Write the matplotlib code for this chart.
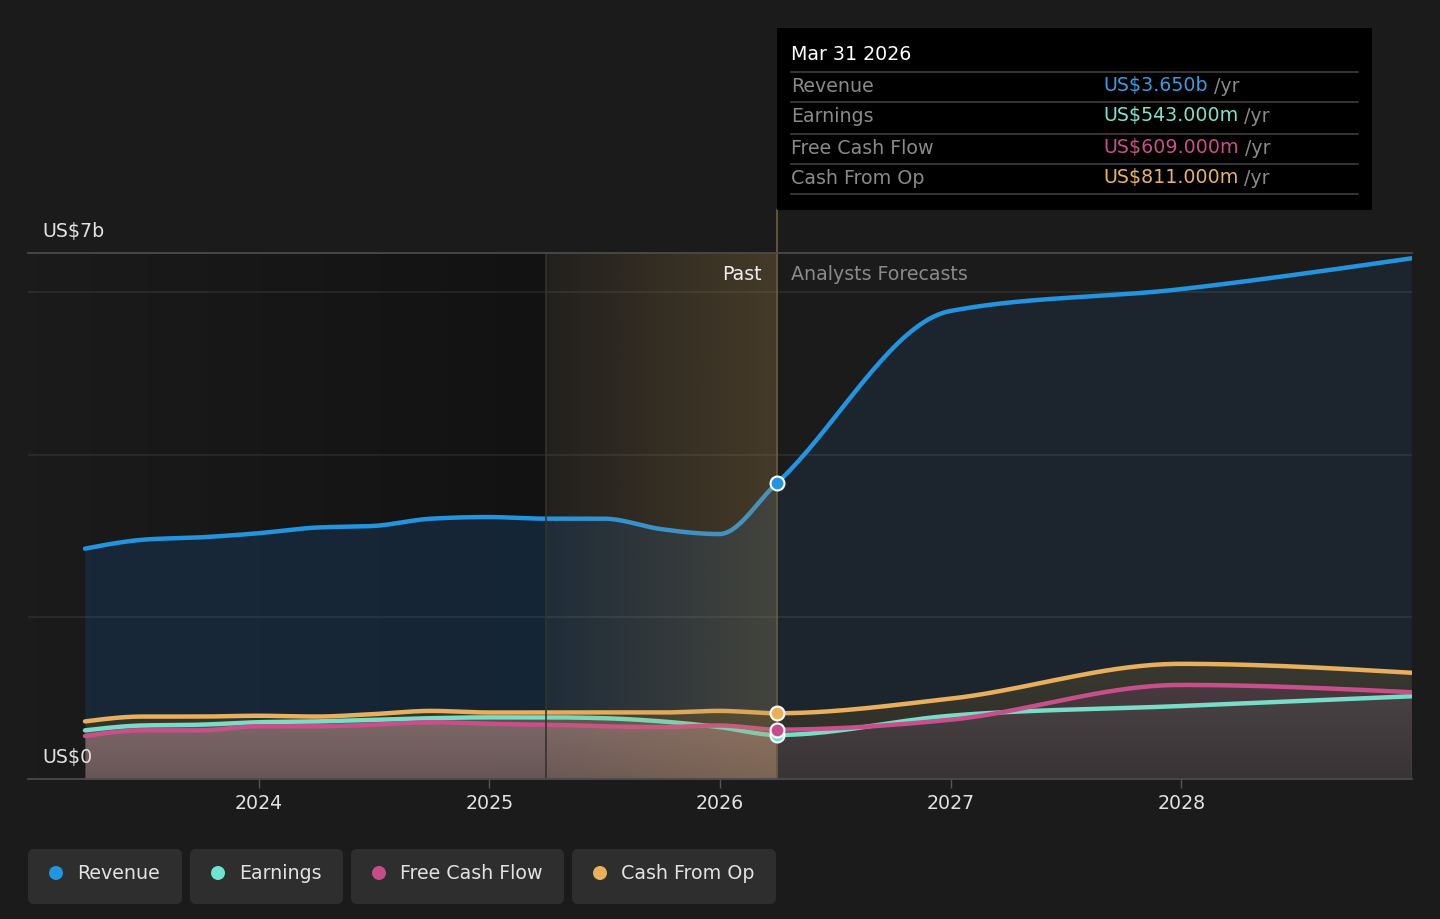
import numpy as np
import matplotlib
matplotlib.use("Agg")
import matplotlib.pyplot as plt
from matplotlib.patches import FancyBboxPatch, Rectangle, Circle, Polygon
from matplotlib.transforms import Affine2D
from matplotlib.lines import Line2D

plt.rcParams['font.family'] = ['DejaVu Sans']

# ---------------- data (US$ billions) ----------------
past_dates = [2023.247, 2023.496, 2023.748, 2023.997, 2024.247, 2024.496, 2024.748,
              2024.997, 2025.247, 2025.496, 2025.748, 2025.997, 2026.247]
forecast_dates = [2026.997, 2027.997, 2028.997]

revenue_past = [2.84, 2.95, 2.98, 3.03, 3.10, 3.12, 3.21, 3.23, 3.21, 3.21, 3.08, 3.02, 3.65]
earnings_past = [0.60, 0.66, 0.67, 0.70, 0.71, 0.73, 0.75, 0.76, 0.76, 0.75, 0.71, 0.64, 0.543]
fcf_past = [0.53, 0.60, 0.60, 0.65, 0.65, 0.67, 0.70, 0.68, 0.67, 0.65, 0.64, 0.66, 0.609]
cfo_past = [0.71, 0.77, 0.77, 0.78, 0.77, 0.80, 0.84, 0.82, 0.82, 0.82, 0.82, 0.84, 0.811]

revenue_fc = [5.77, 6.04, 6.42]
earnings_fc = [0.78, 0.90, 1.02]
fcf_fc = [0.73, 1.16, 1.07]
cfo_fc = [0.99, 1.42, 1.31]

year_ticks = [2024, 2025, 2026, 2027, 2028]
grid_values = [2, 4, 6]
series_names = ["Revenue", "Earnings", "Free Cash Flow", "Cash From Op"]
tooltip_date = "Mar 31 2026"
tooltip_values = ["US$3.650b", "US$543.000m", "US$609.000m", "US$811.000m"]
y_top_label = "US$7b"
y_bottom_label = "US$0"
past_label = "Past"
forecast_label = "Analysts Forecasts"

# ---------------- styles ----------------
BG = '#1b1b1b'
line_colors = ['#2394df', '#78dcc6', '#c8508a', '#e8b05c']
dot_colors = ['#2394df', '#6fe3d2', '#c44d8a', '#e8b05c']
value_colors = ['#3a9be0', '#7ee3cc', '#c8508a', '#e8b464']
past_fill = [('#17324d', 0.60), ('#8e847f', 0.48), ('#c8949e', 0.42), ('#6e5f32', 0.40)]
fc_fill = [('#1e3a52', 0.35), ('#4a8c6e', 0.15), ('#96508c', 0.20), ('#5f5032', 0.42)]
TXT = '#e2e2e2'
GREY = '#8a8a8a'
FS = 13.7

W, H = 1440, 919
fig = plt.figure(figsize=(W / 100, H / 100), dpi=100, facecolor=BG)
PX = Affine2D().scale(1 / W, -1 / H).translate(0, 1) + fig.transFigure

ax_l, ax_r, ax_t, ax_b = 28, 1412, 253, 779
ax = fig.add_axes([ax_l / W, (H - ax_b) / H, (ax_r - ax_l) / W, (ax_b - ax_t) / H])
ax.set_facecolor(BG)
XMIN, XMAX = 2023.0, 2029.0
YMAX = 6.486


def monotone_curve(xs, ys, n=40):
    xs = np.asarray(xs, float)
    ys = np.asarray(ys, float)
    h = np.diff(xs)
    s = np.diff(ys) / h
    N = len(xs)
    t = np.zeros(N)
    for i in range(1, N - 1):
        p = (s[i - 1] * h[i] + s[i] * h[i - 1]) / (h[i - 1] + h[i])
        t[i] = (np.sign(s[i - 1]) + np.sign(s[i])) * min(abs(s[i - 1]), abs(s[i]), 0.5 * abs(p))
    t[0] = (3 * s[0] - t[1]) / 2
    t[-1] = (3 * s[-1] - t[-2]) / 2
    X, Y = [], []
    for i in range(N - 1):
        u = np.linspace(0, 1, n + 1) if i == N - 2 else np.linspace(0, 1, n, endpoint=False)
        h00 = 2 * u**3 - 3 * u**2 + 1
        h10 = u**3 - 2 * u**2 + u
        h01 = -2 * u**3 + 3 * u**2
        h11 = u**3 - u**2
        Y.append(h00 * ys[i] + h10 * h[i] * t[i] + h01 * ys[i + 1] + h11 * h[i] * t[i + 1])
        X.append(xs[i] + u * h[i])
    return np.concatenate(X), np.concatenate(Y)


cut = past_dates[-1]
band_start = past_dates[-5]
all_dates = past_dates + forecast_dates
series = [revenue_past + revenue_fc, earnings_past + earnings_fc,
          fcf_past + fcf_fc, cfo_past + cfo_fc]
curves = [monotone_curve(all_dates, s) for s in series]

# past region darkening (horizontal gradient)
n = 256
arr = np.zeros((2, n, 4))
arr[..., 3] = np.linspace(0.0, 0.33, n)[None, :]
ax.imshow(arr, extent=[XMIN, band_start, 0, YMAX], aspect='auto', origin='lower',
          zorder=0.5, interpolation='bilinear')

# fills
fill_order = [0, 3, 1, 2]
for k, idx in enumerate(fill_order):
    xd, yd = curves[idx]
    pm = xd <= cut + 1e-9
    fm = xd >= cut - 1e-9
    ax.fill_between(xd[pm], 0, yd[pm], color=past_fill[idx][0], alpha=past_fill[idx][1],
                    lw=0, zorder=2 + k * 0.1)
    ax.fill_between(xd[fm], 0, yd[fm], color=fc_fill[idx][0], alpha=fc_fill[idx][1],
                    lw=0, zorder=2 + k * 0.1)

# bottom darkening under the cash-from-op curve
xc, yc = curves[3]
verts = np.column_stack([np.concatenate([xc, xc[::-1]]),
                         np.concatenate([yc, np.zeros_like(yc)])])
clip_poly = Polygon(verts, closed=True, transform=ax.transData)
garr = np.zeros((n, 2, 4))
garr[..., 3] = np.linspace(0.26, 0.0, n)[:, None]
gim = ax.imshow(garr, extent=[xc[0], xc[-1], 0, 1.25], aspect='auto', origin='lower',
                zorder=2.6, interpolation='bilinear')
gim.set_clip_path(clip_poly)

# gridlines
for g in grid_values:
    ax.axhline(g, color='white', alpha=0.08, lw=1.2, zorder=3)

# lines
for i, (xd, yd) in enumerate(curves):
    ax.plot(xd, yd, color=line_colors[i], lw=3.2, zorder=4 + i * 0.1,
            solid_capstyle='round')

# gold band overlay (past year)
barr = np.zeros((2, n, 4))
barr[..., 0] = 180 / 255
barr[..., 1] = 140 / 255
barr[..., 2] = 75 / 255
barr[..., 3] = np.linspace(0.05, 0.28, n)[None, :]
ax.imshow(barr, extent=[band_start, cut, 0, YMAX], aspect='auto', origin='lower',
          zorder=5, interpolation='bilinear')

# vertical separators
ax.axvline(band_start, color='#36332d', lw=1.2, zorder=5.5)
ax.axvline(cut, ymin=0, ymax=(ax_b - 210) / (ax_b - ax_t), color='#6a5a3c', lw=1.3,
           zorder=5.5, clip_on=False)

# markers at the cut
for i in range(4):
    ax.plot([cut], [series[i][len(past_dates) - 1]], 'o', ms=10, mfc=dot_colors[i],
            mec='white', mew=1.5, zorder=7 + i * 0.1, clip_on=False)

ax.set_xlim(XMIN, XMAX)
ax.set_ylim(0, YMAX)
ax.set_yticks([])
ax.set_xticks(year_ticks)
ax.set_xticklabels([str(y) for y in year_ticks])
ax.tick_params(axis='x', length=6.5, width=1, color='#555555', pad=4.5,
               labelsize=FS, labelcolor=TXT)
for sp in ['left', 'right']:
    ax.spines[sp].set_visible(False)
for sp in ['top', 'bottom']:
    ax.spines[sp].set_color('#4a4a4a')
    ax.spines[sp].set_linewidth(1.3)
    ax.spines[sp].set_zorder(6)

# y labels
fig.text(42, 232, y_top_label, transform=PX, color=TXT, fontsize=FS, ha='left', va='center')
fig.text(42, 758, y_bottom_label, transform=PX, color=TXT, fontsize=FS, ha='left',
         va='center', zorder=10)

# past / forecast labels
fig.text(762, 274, past_label, transform=PX, color='#eeeeee', fontsize=FS, ha='right',
         va='center', zorder=10)
fig.text(791, 274, forecast_label, transform=PX, color=GREY, fontsize=FS, ha='left',
         va='center', zorder=10)

# tooltip
fig.add_artist(Rectangle((777, 28), 595, 182, transform=PX, facecolor='black',
                         edgecolor='none', zorder=20))
fig.text(791, 55, tooltip_date, transform=PX, color='white', fontsize=FS, ha='left',
         va='center', zorder=21)
row_y = [86, 116, 148, 178]
for yy in [72, 102, 134, 164, 194]:
    fig.add_artist(Line2D([791, 1358], [yy, yy], transform=PX, color='#454545', lw=1.1,
                          zorder=21))
for i, name in enumerate(series_names):
    fig.text(791, row_y[i], name, transform=PX, color=GREY, fontsize=FS, ha='left',
             va='center', zorder=21)
    t = fig.text(1103, row_y[i], tooltip_values[i], transform=PX, color=value_colors[i],
                 fontsize=FS, ha='left', va='center', zorder=21)
    fig.add_artist(matplotlib.text.Annotation(' /yr', xy=(1, 0.5), xycoords=t,
                                              xytext=(0, 0), textcoords='offset points',
                                              color=GREY, fontsize=FS, ha='left',
                                              va='center', zorder=21))

# legend
boxes = [(28, 182), (190, 343), (351, 564), (572, 776)]
for i, name in enumerate(series_names):
    x0, x1 = boxes[i]
    fig.add_artist(FancyBboxPatch((x0, 849), x1 - x0, 55, transform=PX,
                                  boxstyle='round,pad=0,rounding_size=6',
                                  facecolor='#2e2e2e', edgecolor='none', zorder=20))
    fig.add_artist(Circle((x0 + 28, 873), 7, transform=PX, facecolor=dot_colors[i],
                          edgecolor='none', zorder=21))
    fig.text(x0 + 49, 873.5, name, transform=PX, color=TXT, fontsize=FS, ha='left',
             va='center', zorder=21)

fig.savefig('out.png', dpi=100, facecolor=BG)
